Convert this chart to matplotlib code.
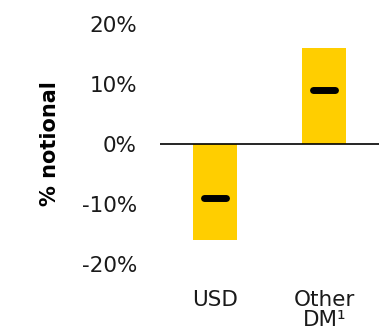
import numpy as np
import matplotlib.pyplot as plt

categories = ["USD", "Other\nDM\u00b9"]
range_values = [-16, 16]
mean_values = [-9, 9]
yticks = [-20, -10, 0, 10, 20]

bar_color = "#FFCE00"

plt.rcParams['font.family'] = ['DejaVu Sans']

fig = plt.figure(figsize=(3.91, 3.31), dpi=100)
ax = fig.add_axes([160 / 391, 1 - 264 / 331, 219 / 391, 240 / 331])

x = np.arange(len(categories))
ax.bar(x, range_values, width=0.4, color=bar_color, zorder=1)

# short rounded markers for the mean of each range
for xi, m in zip(x, mean_values):
    ax.plot([xi - 0.1, xi + 0.1], [m, m], color="black", lw=5,
            solid_capstyle="round", zorder=3)

ax.axhline(0, color="black", lw=1.2, zorder=2)

ax.set_xlim(-0.5, 1.5)
ax.set_ylim(-20, 20)
ax.set_yticks(yticks)
ax.set_yticklabels([f"{v}%" for v in yticks])
ax.set_xticks(x)
ax.set_xticklabels(categories, linespacing=0.95, va="top")

ax.tick_params(axis="both", length=0, labelsize=15.5, colors="#1a1a1a")
ax.tick_params(axis="y", pad=16.5)
ax.tick_params(axis="x", pad=19)
for s in ax.spines.values():
    s.set_visible(False)

ax.set_ylabel("% notional", fontsize=15, fontweight="bold")
ax.yaxis.set_label_coords(-110 / 219, 0.5)
ax.yaxis.label.set_verticalalignment("center")

fig.savefig("out.png", dpi=100)
